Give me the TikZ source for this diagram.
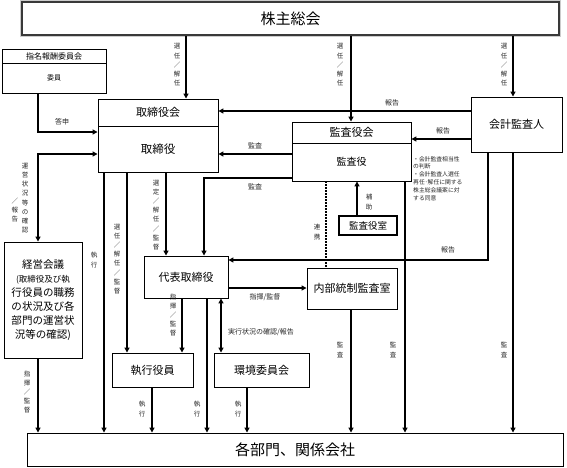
\documentclass[tikz,border=0pt]{standalone}
\usepackage{fontspec}
\setmainfont{Noto Sans CJK JP}
\usetikzlibrary{arrows.meta,calc}
\begin{document}
\begin{tikzpicture}[x=1pt,y=-1pt,
 box/.style={draw, line width=0.9pt, fill=white, inner sep=0pt, align=center},
 arr/.style={line width=1.5pt, -{Triangle[length=5pt,width=5pt]}},
 dbl/.style={line width=1.5pt, {Triangle[length=5pt,width=5pt]}-{Triangle[length=5pt,width=5pt]}},
 vl/.style={font=\fontsize{6.5}{9.2}\selectfont, align=center, inner sep=0pt, text=black!85},
 hl/.style={font=\fontsize{7}{8}\selectfont, inner sep=0pt, text=black!85},
 big/.style={font=\fontsize{11}{12}\selectfont},
]
\useasboundingbox (0,0) rectangle (567,467);

% boxes
\node[box, draw=gray!45!black, line width=2.8pt,
      minimum width=537pt, minimum height=33pt, font=\fontsize{15}{15}\selectfont] (top) at (290.5,18.5) {株主総会};
\draw[gray!40, line width=1pt] (top.south west) rectangle (top.north east);
\node[box, minimum width=536pt, minimum height=33pt, font=\fontsize{15}{15}\selectfont] (bot) at (295,449.5) {各部門、関係会社};

\node[box, minimum width=104pt, minimum height=14pt, font=\fontsize{8}{8}\selectfont] (iinh) at (54,56) {指名報酬委員会};
\node[box, minimum width=104pt, minimum height=30pt, font=\fontsize{7}{7}\selectfont] (iin) at (54,78) {委員};

\node[box, minimum width=120pt, minimum height=27pt, big] (tbh) at (158,112.5) {取締役会};
\node[box, minimum width=120pt, minimum height=46pt, font=\fontsize{11.5}{12}\selectfont] (tb) at (158,149) {取締役};

\node[box, minimum width=119pt, minimum height=21pt, big] (kh) at (351.5,132.5) {監査役会};
\node[box, minimum width=119pt, minimum height=38pt, font=\fontsize{10}{10}\selectfont] (ka) at (351.5,162) {監査役};

\node[box, minimum width=91pt, minimum height=55pt, big] (kai) at (516.5,124.5) {会計監査人};

\node[box, line width=1.2pt, minimum width=58pt, minimum height=19pt, font=\fontsize{9.5}{10}\selectfont] (shitsu) at (368,225.5) {監査役室};

\node[box, minimum width=78pt, minimum height=116pt, font=\fontsize{10.5}{14}\selectfont] (keiei) at (43,300)
  {経営会議\\\fontsize{8.5}{10.2}\selectfont (取締役及び執\\行役員の職務\\の状況及び各\\部門の運営状\\況等の確認)};

\node[box, minimum width=84pt, minimum height=42pt, big] (dai) at (186,277) {代表取締役};
\node[box, minimum width=90pt, minimum height=41pt, big] (nai) at (352,288.5) {内部統制監査室};
\node[box, minimum width=81pt, minimum height=34pt, big] (shikko) at (152.5,370) {執行役員};
\node[box, minimum width=95pt, minimum height=34pt, big] (kankyo) at (261.5,370) {環境委員会};

% note text
\node[inner sep=0pt, anchor=north west, align=left, font=\fontsize{5.8}{7.8}\selectfont, text=black!85] (note) at (413,156)
  {・会計監査相当性\\の判断\\・会計監査人選任\\再任･解任に関する\\株主総会議案に対\\する同意};

% helper coordinates
\coordinate (xa) at (186,0);
\coordinate (xb) at (351,0);
\coordinate (xc) at (513,0);
\coordinate (xg) at (204,0);
\coordinate (xh) at (326,0);
\coordinate (xi) at (357,0);
\coordinate (xj) at (488,0);
\coordinate (xl) at (405,0);
\coordinate (xo) at (221,0);
\coordinate (xp) at (182,0);
\coordinate (xq) at (127,0);
\coordinate (xr) at (166,0);
\coordinate (xs) at (104,0);
\coordinate (xt) at (152,0);
\coordinate (xu) at (207,0);
\coordinate (xv) at (247,0);
\coordinate (xw) at (38,0);
\coordinate (ya) at (0,111);
\coordinate (yb) at (0,139);
\coordinate (yc) at (0,154);
\coordinate (yd) at (0,178);
\coordinate (yj) at (0,260);
\coordinate (yn) at (0,288);
\coordinate (yy) at (0,132);

% connectors
\draw[arr] (top.south -| xa) -- (tbh.north -| xa);
\draw[arr] (top.south -| xb) -- (kh.north -| xb);
\draw[arr] (top.south -| xc) -- (kai.north -| xc);
\draw[arr] (kai.west |- ya) -- (tbh.east |- ya);
\draw[arr] (kai.west |- yb) -- (kh.east |- yb);
\draw[arr] (ka.west |- yc) -- (tb.east |- yc);
\draw[arr] (ka.west |- yd) -| (dai.north -| xg);
\draw[line width=1.8pt, dash pattern=on 1.6pt off 1.4pt] (ka.south -| xh) -- (nai.north -| xh);
\draw[arr] (shitsu.north -| xi) -- (ka.south -| xi);
\draw[arr] (kai.south -| xj) |- (dai.east |- yj);
\draw[arr] (kai.south -| xc) -- (bot.north -| xc);
\draw[arr] (ka.south -| xl) -- (bot.north -| xl);
\draw[arr] (nai.south -| xb) -- (bot.north -| xb);
\draw[arr] (dai.east |- yn) -- (nai.west |- yn);
\draw[dbl] (dai.south -| xo) -- (kankyo.north -| xo);
\draw[arr] (dai.south -| xp) -- (shikko.north -| xp);
\draw[arr] (tb.south -| xq) -- (shikko.north -| xq);
\draw[arr] (tb.south -| xr) -- (dai.north -| xr);
\draw[arr] (tb.south -| xs) -- (bot.north -| xs);
\draw[arr] (shikko.south -| xt) -- (bot.north -| xt);
\draw[arr] (dai.south -| xu) -- (bot.north -| xu);
\draw[arr] (kankyo.south -| xv) -- (bot.north -| xv);
\draw[arr] (keiei.south -| xw) -- (bot.north -| xw);
\draw[dbl] (keiei.north -| xw) |- (tb.west |- yc);
\draw[arr] (iin.south -| xw) |- (tb.west |- yy);

% labels
\node[vl] (l1) at (177,65) {選\\任\\／\\解\\任};
\node[vl] (l2) at (340,65) {選\\任\\／\\解\\任};
\node[vl] (l3) at (504,65) {選\\任\\／\\解\\任};
\node[hl] (l4) at (392,103) {報告};
\node[hl] (l5) at (443,131) {報告};
\node[hl] (l6) at (255,146) {監査};
\node[hl] (l7) at (255,187) {監査};
\node[vl] (l8) at (317,232) {連\\携};
\node[vl] (l9) at (369,202) {補\\助};
\node[hl] (l10) at (448,250) {報告};
\node[vl] (l11) at (504,350) {監\\査};
\node[vl] (l12) at (393,350) {監\\査};
\node[vl] (l13) at (340,350) {監\\査};
\node[hl] (l14) at (265,297) {指揮/監督};
\node[hl, anchor=west] (l15) at (228,332) {実行状況の確認/報告};
\node[vl] (l16) at (173,315) {指\\揮\\／\\監\\督};
\node[vl] (l17) at (117,259) {選\\任\\／\\解\\任\\／\\監\\督};
\node[vl] (l18) at (156,215) {選\\定\\／\\解\\任\\／\\監\\督};
\node[vl] (l19) at (94,260) {執\\行};
\node[vl] (l20) at (142,409) {執\\行};
\node[vl] (l21) at (197,409) {執\\行};
\node[vl] (l22) at (238,409) {執\\行};
\node[vl] (l23) at (27,392) {指\\揮\\／\\監\\督};
\node[vl] (l24) at (25,198) {運\\営\\状\\況\\等\\の\\確\\認};
\node[vl] (l25) at (15,210) {／\\報\\告};
\node[hl] (l26) at (62,122) {答申};
\end{tikzpicture}
\end{document}
